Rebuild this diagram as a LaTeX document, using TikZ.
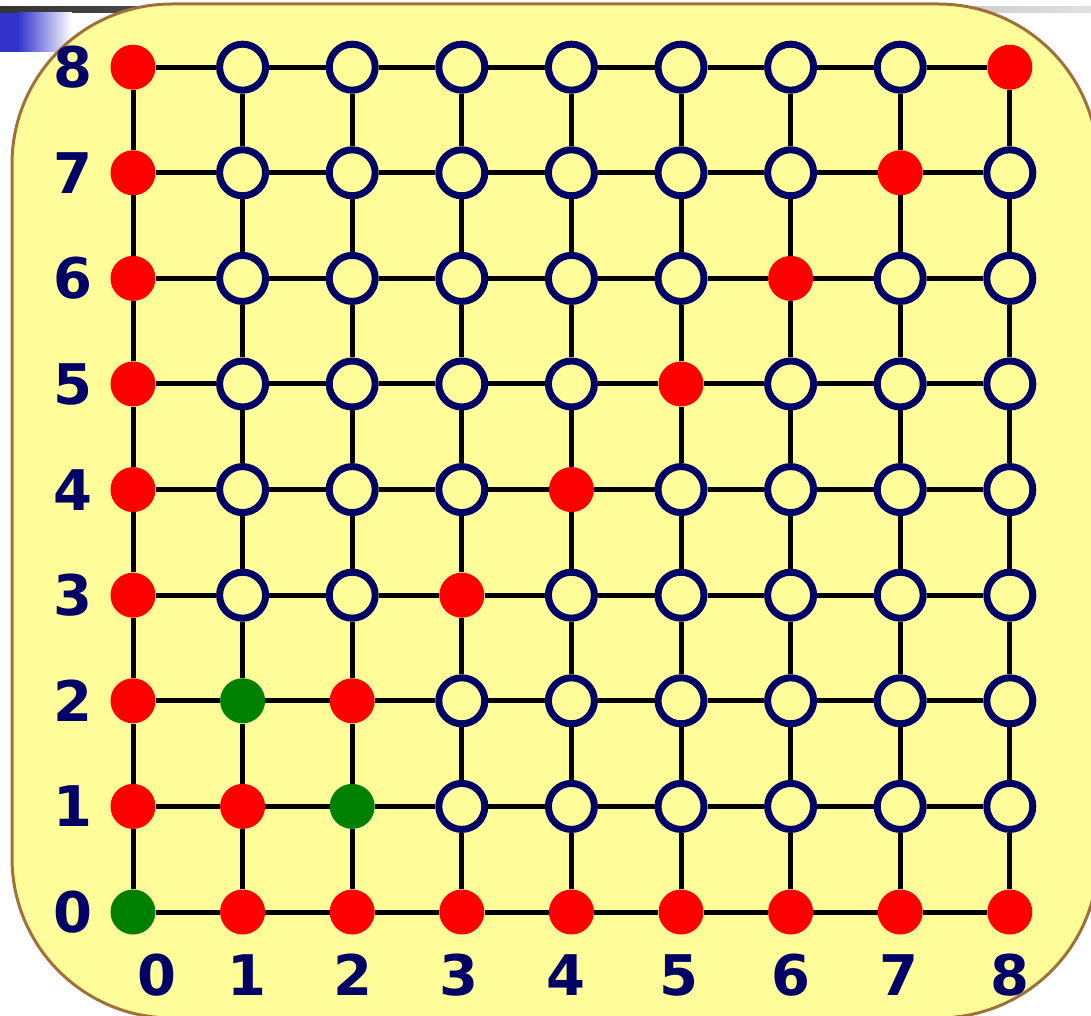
\documentclass[tikz,border=0pt]{standalone}
\usepackage{fontspec}
\usepackage{xcolor}
\usepackage{tikz}
\newfontfamily\labfont{DejaVu Sans}
\definecolor{navy}{RGB}{0,0,102}
\definecolor{panel}{RGB}{255,253,153}
\definecolor{rim}{RGB}{160,112,58}
\definecolor{leaf}{RGB}{0,128,0}
\definecolor{barblue}{RGB}{51,51,204}

\begin{document}
\begin{tikzpicture}[
    x=1pt, y=1pt,
    redpt/.style = {circle, fill=red, minimum size=45pt, inner sep=0pt},
    greenpt/.style = {circle, fill=leaf, minimum size=45pt, inner sep=0pt},
    openpt/.style = {circle, draw=navy, line width=7pt, fill=panel, minimum size=46pt, inner sep=0pt},
    link/.style = {line width=5pt, black},
    lab/.style = {text=navy, font=\labfont\bfseries\fontsize{56}{56}\selectfont, inner sep=0pt}
]
    \clip (0,0) rectangle (1091,1015);
    % title bar remains
    \shade[left color=black!80, right color=black!12] (0,1002) rectangle (1091,1008);
    \fill[barblue] (0,963) rectangle (18,1002);
    \shade[left color=barblue, right color=white] (18,963) rectangle (72,1002);
    % panel
    \draw[rim, line width=3pt, fill=panel, rounded corners=160pt] (12,-3) rectangle (1098,1011);

    % grid points
    \foreach \i in {0,...,8}
        \foreach \j in {0,...,8}{
            \def\st{openpt}
            \ifnum\i=\j \def\st{redpt}\fi
            \ifnum\i=0 \def\st{redpt}\fi
            \ifnum\j=0 \def\st{redpt}\fi
            \ifnum\numexpr\i*10+\j\relax=0 \def\st{greenpt}\fi
            \ifnum\numexpr\i*10+\j\relax=12 \def\st{greenpt}\fi
            \ifnum\numexpr\i*10+\j\relax=21 \def\st{greenpt}\fi
            \node[\st] (n-\i-\j) at ({133+109.6*\i}, {103+105.6*\j}) {};
        }

    % links
    \foreach \i [evaluate=\i as \k using int(\i+1)] in {0,...,7}
        \foreach \j in {0,...,8}{
            \draw[link] (n-\i-\j) -- (n-\k-\j);
            \draw[link] (n-\j-\i) -- (n-\j-\k);
        }

    % axis labels
    \foreach \j in {0,...,8}
        \node[lab] (row-\j) at (73, {103+105.6*\j}) {\j};
    \foreach \i/\x in {0/157,1/247,2/353,3/459,4/566,5/679,6/791,7/899,8/1010}
        \node[lab] (col-\i) at (\x, 40) {\i};
\end{tikzpicture}
\end{document}
